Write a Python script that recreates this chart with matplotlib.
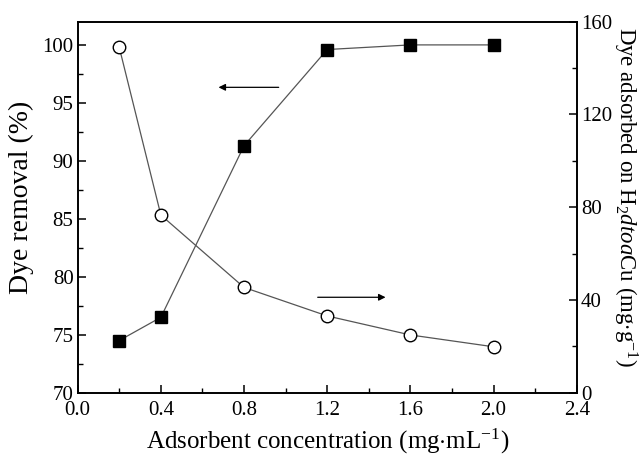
import matplotlib
matplotlib.use("Agg")
import matplotlib.pyplot as plt
from matplotlib.ticker import MultipleLocator

plt.rcParams['font.family'] = ['Liberation Serif', 'DejaVu Serif']
plt.rcParams['mathtext.fontset'] = 'custom'
plt.rcParams['mathtext.rm'] = 'Liberation Serif'
plt.rcParams['mathtext.it'] = 'Liberation Serif:italic'

# adsorbent concentration (mg/mL)
conc = [0.2, 0.4, 0.8, 1.2, 1.6, 2.0]
# dye removal (%), left axis
removal = [74.5, 76.5, 91.3, 99.6, 100.0, 100.0]
# dye adsorbed (mg/g), right axis
adsorbed = [148.9, 76.6, 45.4, 33.1, 24.9, 19.8]

fig = plt.figure(figsize=(6.41, 4.61), dpi=100)
ax = fig.add_axes([0.1212, 0.1482, 0.7785, 0.8047])
ax2 = ax.twinx()

line_kw = dict(color='#555555', lw=0.9)
ax.plot(conc, removal, marker='s', ms=8, mfc='black', mec='black', **line_kw)
ax2.plot(conc, adsorbed, marker='o', ms=9, mfc='white', mec='black', mew=1.0, **line_kw)

ax.set_xlim(0, 2.4)
ax.set_ylim(70, 102)
ax2.set_ylim(0, 160)

ax.xaxis.set_major_locator(MultipleLocator(0.4))
ax.xaxis.set_minor_locator(MultipleLocator(0.2))
ax.yaxis.set_major_locator(MultipleLocator(5))
ax.yaxis.set_minor_locator(MultipleLocator(2.5))
ax2.yaxis.set_major_locator(MultipleLocator(40))
ax2.yaxis.set_minor_locator(MultipleLocator(20))
ax.xaxis.set_major_formatter(plt.FormatStrFormatter('%.1f'))

for a in (ax, ax2):
    a.tick_params(which='major', direction='in', length=6, width=1.1, labelsize=15, pad=3)
    a.tick_params(which='minor', direction='in', length=3.5, width=1.0)
    for s in a.spines.values():
        s.set_linewidth(1.2)
ax.tick_params(which='both', top=False, right=False)
ax.tick_params(axis='x', pad=6)
ax2.tick_params(which='both', left=False)

ax.set_xlabel('Adsorbent concentration (mg$\\cdot$mL$^{-1}$)', fontsize=18, labelpad=5)
ax.set_ylabel('Dye removal (%)', fontsize=20)
ax.yaxis.set_label_coords(-0.087, 0.5275)
ax2.set_ylabel('Dye adsorbed on H$_2$$\\mathit{dtoa}$Cu (mg$\\cdot$g$^{-1}$)',
               fontsize=16.5, rotation=270, va='bottom')
ax2.yaxis.set_label_coords(1.068, 0.5275)

# direction arrows
ax.annotate('', xy=(0.664, 96.34), xytext=(0.98, 96.34),
            arrowprops=dict(arrowstyle='-|>', color='black', lw=0.9, mutation_scale=10))
ax.annotate('', xy=(1.494, 78.23), xytext=(1.141, 78.23),
            arrowprops=dict(arrowstyle='-|>', color='black', lw=0.9, mutation_scale=10))

fig.savefig('out.png', dpi=100)
